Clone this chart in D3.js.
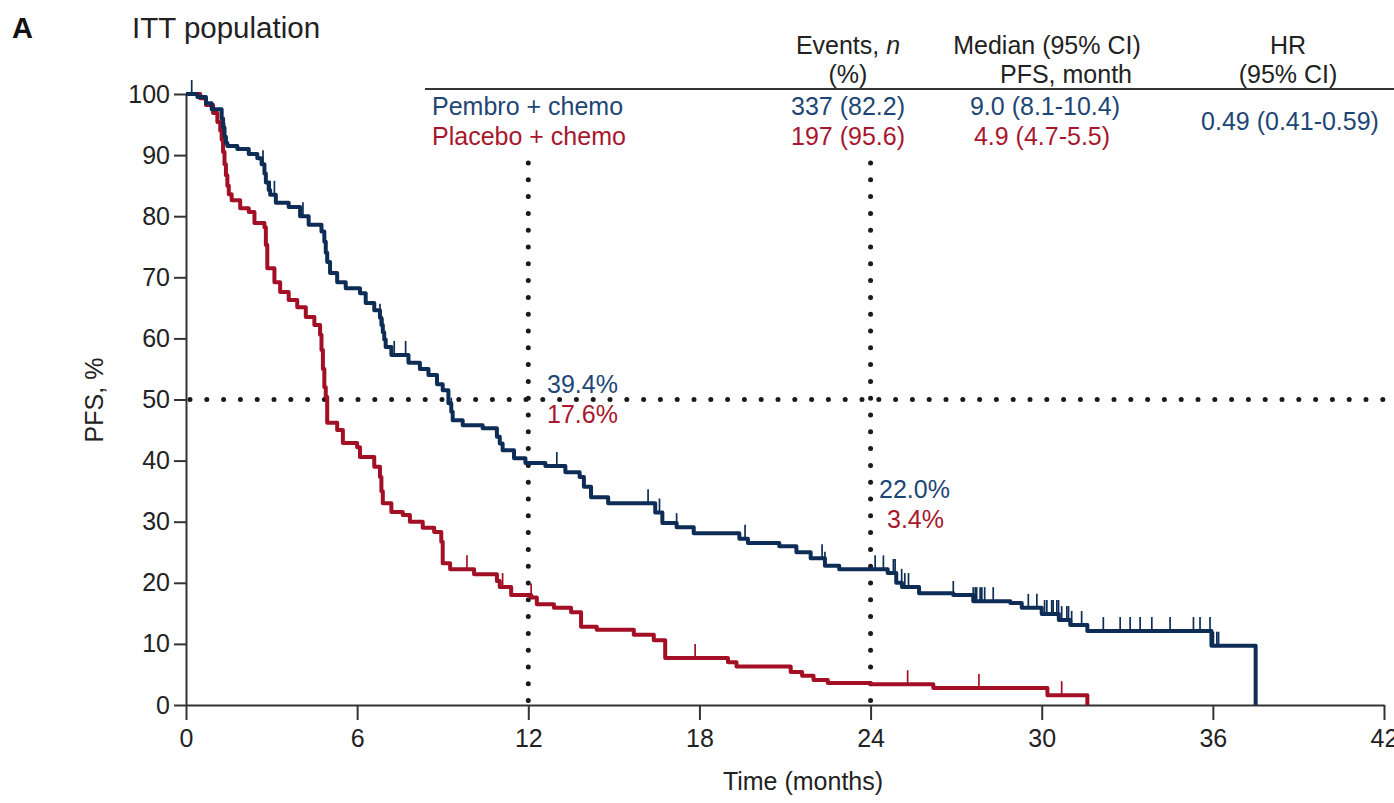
<!DOCTYPE html>
<html>
<head>
<meta charset="utf-8">
<script src="https://cdn.jsdelivr.net/npm/d3@7"></script>
<style>
  body { margin: 0; background: #fff; }
  svg text { font-family: "Liberation Sans", Arial, Helvetica, sans-serif; }
</style>
</head>
<body>
<div id="chart"></div>
<script>
// Kaplan-Meier PFS, ITT population
const pembroSteps = [
  [0,100],[0.4,99.5],[0.7,98.5],[0.9,97.5],[1.25,96],[1.3,94.5],[1.35,93],[1.4,92],[1.45,91.5],
  [1.8,91],[2.2,90.2],[2.5,89.5],[2.65,88.5],[2.75,87],[2.8,85.5],[2.9,84.3],[2.95,83.5],[3.15,82.2],
  [3.6,81.5],[4.0,80],[4.3,78.6],[4.75,77.5],[4.85,75.8],[4.9,74],[4.95,72.5],[5.05,70.7],[5.3,69.2],
  [5.6,68.2],[6.1,67.4],[6.3,65.8],[6.6,64.6],[6.8,63.4],[6.85,62.2],[6.9,61],[6.95,59.8],[7.0,58.6],
  [7.2,57.3],[7.8,56],[8.2,55],[8.5,54],[8.8,52.5],[9.0,51.5],[9.2,49.4],[9.3,48],[9.35,46.6],
  [9.7,45.8],[10.4,45.3],[10.9,43.9],[11.0,42.8],[11.1,41.7],[11.5,40.4],[11.9,39.6],[12.6,39.1],
  [13.3,38.1],[13.8,37.3],[13.95,35.7],[14.2,34],[14.8,33],[16.45,31.5],[16.7,29.8],[17.2,29.1],
  [17.8,28.1],[19.4,27.2],[19.7,26.5],[20.8,26.0],[21.4,25.0],[21.9,24.0],[22.4,22.8],[22.9,22.2],
  [24.6,21.6],[24.9,20.0],[25.1,19.3],[25.7,18.3],[26.9,18.0],[27.6,17.0],[28.9,16.7],[29.3,15.9],
  [30.0,14.9],[30.6,13.9],[31.0,13.1],[31.6,12.1],[35.95,9.7],[37.5,0]
];
const placeboSteps = [
  [0,100],[0.5,99.3],[0.7,98.2],[0.95,96.9],[1.1,95.4],[1.2,94],[1.25,92.5],[1.3,90.5],[1.35,88.5],
  [1.4,86.7],[1.45,85],[1.5,83.6],[1.6,82.6],[1.9,81.3],[2.2,80.7],[2.4,78.9],[2.75,78.2],[2.8,75.3],
  [2.85,71.5],[3.1,69.2],[3.3,67.6],[3.6,66.3],[3.9,65.1],[4.2,63.5],[4.5,62.2],[4.7,60.6],
  [4.75,58.1],[4.8,55],[4.85,52],[4.9,50.4],[4.95,46.2],[5.3,45],[5.5,42.9],[6.0,42.2],[6.1,40.6],
  [6.6,39],[6.8,37.3],[6.85,35],[6.9,33],[7.2,31.6],[7.6,31.1],[7.85,30],[8.3,29],[8.7,28.3],
  [8.95,26.7],[9.0,23.2],[9.26,22.2],[10.1,21.4],[10.9,20.3],[11.0,19.3],[11.4,18.0],[12.1,17.6],
  [12.3,16.5],[12.9,15.9],[13.5,15.2],[13.85,12.8],[14.4,12.3],[15.7,11.5],[16.4,10.6],[16.8,7.7],
  [19.0,7.0],[19.3,6.3],[21.2,5.4],[21.6,4.8],[22.0,4.1],[22.5,3.6],[24.0,3.4],[26.2,2.8],
  [30.2,1.6],[31.6,0]
];
const pembroCensor = [0.2,1.35,2.7,2.95,3.1,4.1,6.8,6.9,7.3,7.7,9.2,9.3,13.0,16.2,16.6,17.2,19.6,
  22.3,22.4,24.16,24.45,24.8,24.86,25.09,25.2,25.33,26.9,27.6,27.67,27.72,27.84,27.9,28.0,28.3,
  29.53,29.83,30.1,30.18,30.35,30.4,30.53,30.59,30.7,30.88,30.94,31.05,31.4,32.16,32.75,33.1,
  33.45,33.86,34.5,35.32,35.55,35.9,36.02,36.14,36.2];
const placeboCensor = [9.85,11.1,12.1,17.85,25.3,27.8,30.7];

const xTicks = [0,6,12,18,24,30,36,42];
const yTicks = [0,10,20,30,40,50,60,70,80,90,100];
const landmarkMonths = [12,24];
const landmarkLabels = [["39.4%","17.6%"],["22.0%","3.4%"]];

const tableHeader = [["Events, ", "n", "(%)"],["Median (95% CI)", "", "PFS, month"],["HR", "", "(95% CI)"]];
const tableRows = [
  ["Pembro + chemo", "337 (82.2)", "9.0 (8.1-10.4)"],
  ["Placebo + chemo", "197 (95.6)", "4.9 (4.7-5.5)"]
];
const hrText = "0.49 (0.41-0.59)";

const blue = "#0d2d56", red = "#a30f25";
const blueText = "#1e4675", redText = "#a8172d";

const W = 1394, H = 803;
const svg = d3.select('#chart').append('svg').attr('width', W).attr('height', H);

const x = d3.scaleLinear().domain([0, 42]).range([186, 1384]);
const y = d3.scaleLinear().domain([0, 100]).range([705, 94]);

// survival value at time t for a step series
function survAt(steps, t) {
  let v = steps[0][1];
  for (const s of steps) { if (s[0] <= t) v = s[1]; else break; }
  return v;
}

// dotted reference lines
const dotted = svg.append('g').attr('stroke', '#1a1a1a').attr('stroke-width', 5)
  .attr('stroke-linecap', 'round').attr('stroke-dasharray', '0 16.8');
dotted.append('line').attr('x1', x(0) + 4).attr('x2', W).attr('y1', y(50)).attr('y2', y(50));
dotted.selectAll('.vl').data(landmarkMonths).enter().append('line')
  .attr('x1', d => x(d)).attr('x2', d => x(d)).attr('y1', 163).attr('y2', y(0));

// axes
const yAxis = svg.append('g').attr('transform', `translate(${x(0)},0)`)
  .call(d3.axisLeft(y).tickValues(yTicks).tickSize(12).tickSizeOuter(0).tickPadding(4));
const xAxis = svg.append('g').attr('transform', `translate(0,${y(0)})`)
  .call(d3.axisBottom(x).tickValues(xTicks).tickSize(15).tickSizeOuter(0).tickPadding(9));
[yAxis, xAxis].forEach(a => {
  a.selectAll('path, line').attr('stroke', '#333').attr('stroke-width', 2);
  a.selectAll('text').attr('font-size', 25).attr('fill', '#222')
    .style('font-family', '"Liberation Sans", Arial, sans-serif');
});

// KM curves
const line = d3.line().x(d => x(d[0])).y(d => y(d[1])).curve(d3.curveStepAfter);
const series = [
  { steps: placeboSteps, censor: placeboCensor, color: red },
  { steps: pembroSteps, censor: pembroCensor, color: blue }
];
series.forEach(s => {
  svg.append('path').datum(s.steps).attr('d', line)
    .attr('fill', 'none').attr('stroke', s.color).attr('stroke-width', 4)
    .attr('stroke-linejoin', 'round');
  svg.append('g').selectAll('line').data(s.censor).enter().append('line')
    .attr('x1', d => x(d)).attr('x2', d => x(d))
    .attr('y1', d => y(survAt(s.steps, d)))
    .attr('y2', d => y(survAt(s.steps, d)) - 14)
    .attr('stroke', s.color).attr('stroke-width', 1.7);
});

// landmark labels
const lmPos = [[547, 393, 547, 423], [879, 498, 887, 528]];
landmarkLabels.forEach((l, i) => {
  svg.append('text').attr('x', lmPos[i][0]).attr('y', lmPos[i][1]).attr('font-size', 25)
    .attr('fill', blueText).text(l[0]);
  svg.append('text').attr('x', lmPos[i][2]).attr('y', lmPos[i][3]).attr('font-size', 25)
    .attr('fill', redText).text(l[1]);
});

// titles
svg.append('text').attr('x', 12).attr('y', 38).attr('font-size', 29).attr('font-weight', 'bold')
  .attr('fill', '#111').text('A');
svg.append('text').attr('x', 132).attr('y', 38).attr('font-size', 29.5).attr('fill', '#222')
  .text('ITT population');
svg.append('text').attr('transform', `translate(103,400) rotate(-90)`).attr('text-anchor', 'middle')
  .attr('font-size', 25).attr('fill', '#222').text('PFS, %');
svg.append('text').attr('x', 803).attr('y', 790).attr('text-anchor', 'middle')
  .attr('font-size', 25).attr('fill', '#222').text('Time (months)');

// table
const colX = [848, 1047, 1288];
const colX2 = [848, 1066, 1288];
tableHeader.forEach((h, i) => {
  const t = svg.append('text').attr('x', colX[i]).attr('y', 54).attr('text-anchor', 'middle')
    .attr('font-size', 25).attr('fill', '#222');
  t.append('tspan').text(h[0]);
  if (h[1]) t.append('tspan').attr('font-style', 'italic').text(h[1]);
  svg.append('text').attr('x', colX2[i]).attr('y', 83).attr('text-anchor', 'middle')
    .attr('font-size', 25).attr('fill', '#222').text(h[2]);
});
svg.append('line').attr('x1', 425).attr('x2', W).attr('y1', 89).attr('y2', 89)
  .attr('stroke', '#333').attr('stroke-width', 2);
const rowColors = [blueText, redText];
const valX = [848, 1045];
tableRows.forEach((r, i) => {
  const yy = 115 + i * 30;
  svg.append('text').attr('x', 432).attr('y', yy).attr('font-size', 25).attr('fill', rowColors[i]).text(r[0]);
  svg.append('text').attr('x', valX[0]).attr('y', yy).attr('text-anchor', 'middle')
    .attr('font-size', 25).attr('fill', rowColors[i]).text(r[1]);
  svg.append('text').attr('x', valX[1] - i * 3).attr('y', yy).attr('text-anchor', 'middle')
    .attr('font-size', 25).attr('fill', rowColors[i]).text(r[2]);
});
svg.append('text').attr('x', 1290).attr('y', 130).attr('text-anchor', 'middle')
  .attr('font-size', 25).attr('fill', blueText).text(hrText);
</script>
</body>
</html>
